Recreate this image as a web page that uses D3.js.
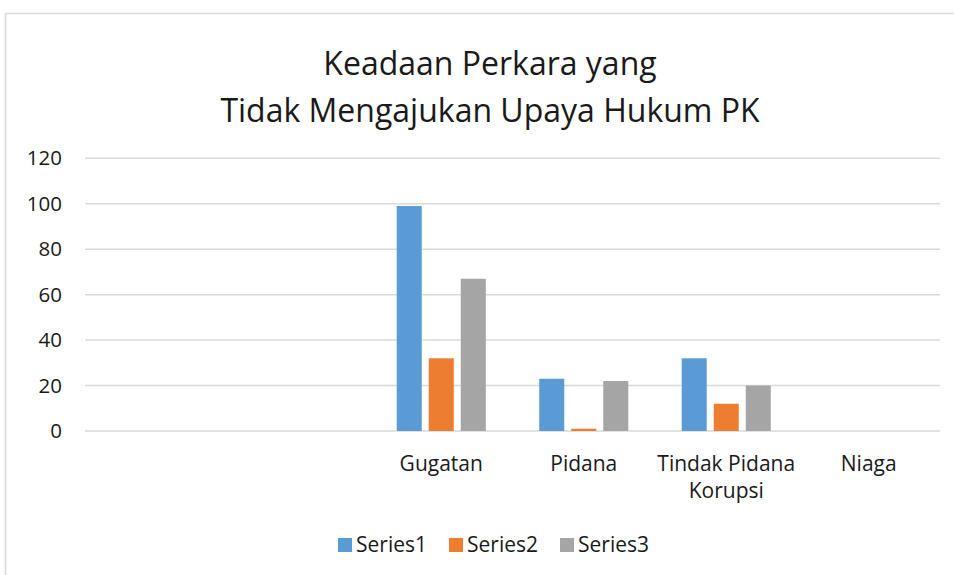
<!DOCTYPE html>
<html>
<head>
<meta charset="utf-8">
<script src="https://cdn.jsdelivr.net/npm/d3@7"></script>
<style>
  body { margin: 0; background: #fff; }
  svg { display: block; font-family: "Open Sans", sans-serif; }
</style>
</head>
<body>
<div id="chart"></div>
<script>
// Data
const categories = ["", " ", "Gugatan", "Pidana", "Tindak Pidana Korupsi", "Niaga"];
const seriesNames = ["Series1", "Series2", "Series3"];
const series1 = [0, 0, 99, 23, 32, 0];
const series2 = [0, 0, 32, 1, 12, 0];
const series3 = [0, 0, 67, 22, 20, 0];
const yTicks = [0, 20, 40, 60, 80, 100, 120];
const colors = ["#5b9bd5", "#ed7d31", "#a5a5a5"];

const width = 954;
const height = 575;
const plot = { left: 85, right: 940, top: 158.3, bottom: 431 };

const svg = d3.select('#chart')
    .append('svg')
    .attr('width', width)
    .attr('height', height);

// Chart frame (top and left edges are visible)
svg.append('path')
    .attr('d', `M5.5,${height} V13.5 H${width}`)
    .attr('fill', 'none')
    .attr('stroke', '#d9d9d9')
    .attr('stroke-width', 1.5);

// Title
const title = svg.append('text')
    .attr('text-anchor', 'middle')
    .style('font-size', '32px')
    .style('fill', '#1a1a1a');
title.append('tspan').attr('x', 490).attr('y', 75).text('Keadaan Perkara yang');
title.append('tspan').attr('x', 490).attr('y', 122).text('Tidak Mengajukan Upaya Hukum PK');

// Scales
const x0 = d3.scaleBand()
    .domain(categories)
    .range([plot.left, plot.right])
    .paddingInner(0.375)
    .paddingOuter(0.1875);

const x1 = d3.scaleBand()
    .domain(seriesNames)
    .range([0, x0.bandwidth()])
    .paddingInner(0.21875);

const y = d3.scaleLinear()
    .domain([0, 120])
    .range([plot.bottom, plot.top]);

// Gridlines
svg.append('g')
    .selectAll('line')
    .data(yTicks)
    .join('line')
    .attr('x1', plot.left)
    .attr('x2', plot.right)
    .attr('y1', d => y(d))
    .attr('y2', d => y(d))
    .style('stroke', '#d9d9d9')
    .style('stroke-width', 1.5);

// Y axis labels
const yAxis = svg.append('g')
    .attr('transform', `translate(${plot.left},0)`)
    .call(d3.axisLeft(y).tickValues(yTicks).tickSize(0).tickPadding(23));
yAxis.select('.domain').remove();
yAxis.selectAll('text')
    .style('font-size', '20.5px')
    .style('font-family', '"Open Sans", sans-serif')
    .style('fill', '#1a1a1a');

// Bars
const rows = categories.map((c, i) => ({
    category: c,
    values: [series1[i], series2[i], series3[i]].map((v, j) => ({ name: seriesNames[j], value: v }))
}));

svg.append('g')
    .selectAll('g')
    .data(rows)
    .join('g')
    .attr('transform', d => `translate(${x0(d.category)},0)`)
    .selectAll('rect')
    .data(d => d.values)
    .join('rect')
    .attr('x', d => x1(d.name))
    .attr('width', x1.bandwidth())
    .attr('y', d => y(d.value))
    .attr('height', d => y(0) - y(d.value))
    .style('fill', (d, i) => colors[i]);

// Category labels (wrap long ones)
const catLabels = svg.append('g')
    .selectAll('text')
    .data(categories)
    .join('text')
    .attr('text-anchor', 'middle')
    .attr('x', d => x0(d) + x0.bandwidth() / 2)
    .attr('y', 471)
    .style('font-size', '21px')
    .style('fill', '#1a1a1a');

catLabels.each(function(d) {
    const lines = d === "Tindak Pidana Korupsi" ? ["Tindak Pidana", "Korupsi"] : [d.trim()];
    const t = d3.select(this);
    lines.forEach((line, i) => {
        t.append('tspan')
            .attr('x', x0(d) + x0.bandwidth() / 2)
            .attr('dy', i === 0 ? 0 : 27)
            .text(line);
    });
});

// Legend
const legend = svg.append('g');
seriesNames.forEach((name, i) => {
    const lx = 338 + i * 111;
    legend.append('rect')
        .attr('x', lx)
        .attr('y', 538)
        .attr('width', 14)
        .attr('height', 14)
        .style('fill', colors[i]);
    legend.append('text')
        .attr('x', lx + 18)
        .attr('y', 552)
        .style('font-size', '21px')
        .style('fill', '#1a1a1a')
        .text(name);
});
</script>
</body>
</html>
